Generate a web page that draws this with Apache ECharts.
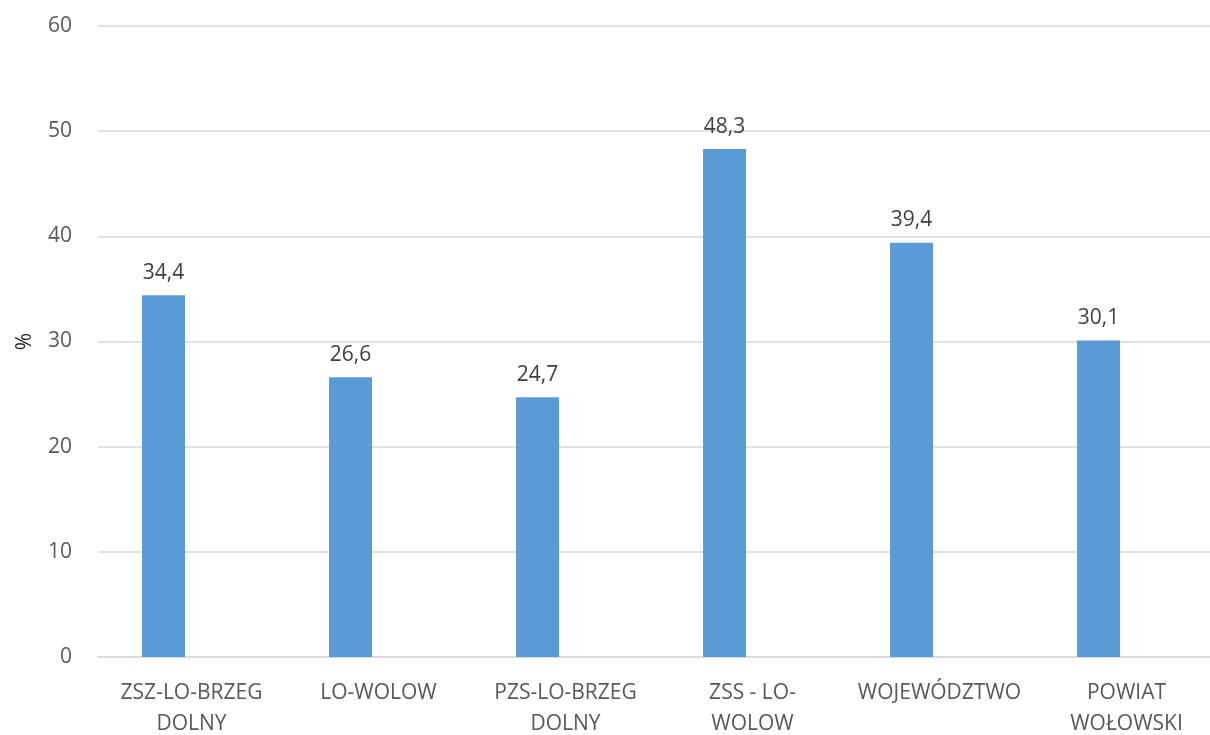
<!DOCTYPE html>
<html><head><meta charset="utf-8">
<script src="https://cdn.jsdelivr.net/npm/echarts@6/dist/echarts.min.js"></script>
<style>html,body{margin:0;padding:0;background:#fff}#c{width:1210px;height:735px}</style>
</head><body><div id="c"></div>
<script>
const categories = ["ZSZ-LO-BRZEG\nDOLNY", "LO-WOLOW", "PZS-LO-BRZEG\nDOLNY", "ZSS - LO-\nWOLOW", "WOJEWÓDZTWO", "POWIAT\nWOŁOWSKI"];
const values = [34.4, 26.6, 24.7, 48.3, 39.4, 30.1];
const emptySeries = [null, null, null, null, null, null];
const yTicks = {min: 0, max: 60, interval: 10};
const FONT = "Open Sans";
const chart = echarts.init(document.getElementById('c'), null, {renderer: 'canvas'});
chart.setOption({
  animation: false,
  textStyle: {fontFamily: FONT},
  grid: {left: 98, top: 26, right: -10, bottom: 78, containLabel: false, outerBoundsMode: 'none'},
  xAxis: {
    type: 'category', data: categories,
    axisLine: {lineStyle: {color: '#d9d9d9', width: 1.5}},
    axisTick: {show: false},
    axisLabel: {color: '#595959', fontSize: 21, fontFamily: FONT, margin: 21, lineHeight: 31, interval: 0}
  },
  yAxis: {
    type: 'value', min: yTicks.min, max: yTicks.max, interval: yTicks.interval,
    name: '%', nameLocation: 'middle', nameGap: 62, nameRotate: 90,
    nameTextStyle: {color: '#262626', fontSize: 21, fontFamily: FONT},
    axisLine: {show: false}, axisTick: {show: false},
    axisLabel: {color: '#595959', fontSize: 21, fontFamily: FONT, margin: 26},
    splitLine: {lineStyle: {color: '#d9d9d9', width: 1.5}}
  },
  series: [
    {type: 'bar', data: values, barWidth: 43, barGap: '30%',
     itemStyle: {color: '#5B9BD5'},
     label: {show: true, position: 'top', distance: 12, color: '#404040', fontSize: 21, fontFamily: FONT,
       formatter: p => p.value.toFixed(1).replace('.', ',')}},
    {type: 'bar', data: emptySeries, barWidth: 43, itemStyle: {color: '#ED7D31'}}
  ]
});
</script></body></html>
